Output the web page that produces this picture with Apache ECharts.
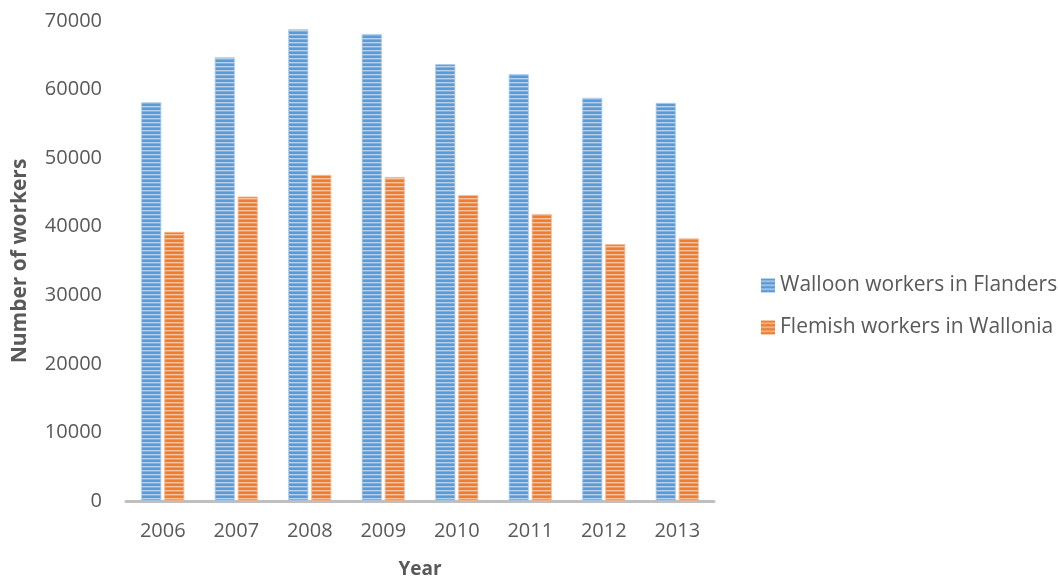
<!DOCTYPE html>
<html>
<head>
<meta charset="utf-8">
<title>Cross-border commuters</title>
<script src="https://cdn.jsdelivr.net/npm/echarts@6/dist/echarts.min.js"></script>
<style>
  html, body { margin: 0; padding: 0; background: #ffffff; }
  #chart { width: 1058px; height: 584px; }
</style>
</head>
<body>
<div id="chart"></div>
<script>
// Commuters between the two regions, by year
const years = ['2006', '2007', '2008', '2009', '2010', '2011', '2012', '2013'];
const walloonInFlanders = [58150, 64700, 68800, 68100, 63700, 62250, 58800, 58050];
const flemishInWallonia = [39250, 44400, 47550, 47250, 44600, 41850, 37450, 38300];
const yTicks = [0, 10000, 20000, 30000, 40000, 50000, 60000, 70000];

// Horizontal stripe fill used for the bars and legend swatches
function stripes(dark, mid, light) {
  const c = document.createElement('canvas');
  c.width = 4; c.height = 4;
  const g = c.getContext('2d');
  g.fillStyle = dark;  g.fillRect(0, 0, 4, 2);
  g.fillStyle = light; g.fillRect(0, 2, 4, 1);
  g.fillStyle = mid;   g.fillRect(0, 3, 4, 1);
  return { image: c, repeat: 'repeat' };
}
const bluePattern = stripes('#5b9bd5', '#7fb0e0', '#b7d2ef');
const orangePattern = stripes('#ed7d31', '#f19a5e', '#f7c3a0');

const font = '"Open Sans", "Noto Sans", sans-serif';
const textGrey = '#595959';

const chart = echarts.init(document.getElementById('chart'), null, { renderer: 'canvas' });
chart.setOption({
  animation: false,
  backgroundColor: '#ffffff',
  textStyle: { fontFamily: font },
  grid: { left: 126, right: 344, top: 21, bottom: 80, containLabel: false },
  legend: {
    orient: 'vertical',
    left: 756,
    top: 270,
    itemWidth: 14,
    itemHeight: 14,
    itemGap: 21,
    itemTextGap: 8,
    icon: 'rect',
    textStyle: { color: textGrey, fontSize: 21, fontFamily: font },
    itemStyle: { borderWidth: 0 },
    data: ['Walloon workers in Flanders', 'Flemish workers in Wallonia']
  },
  xAxis: {
    type: 'category',
    data: years,
    name: 'Year',
    nameLocation: 'middle',
    nameGap: 59,
    nameTextStyle: { color: textGrey, fontSize: 19, fontWeight: 'bold', fontFamily: font },
    axisLine: { lineStyle: { color: '#bfbfbf', width: 3 } },
    axisTick: { show: false },
    axisLabel: { color: textGrey, fontSize: 20, margin: 20, fontFamily: font }
  },
  yAxis: {
    type: 'value',
    min: 0,
    max: 70000,
    interval: 10000,
    name: 'Number of workers',
    nameLocation: 'middle',
    nameGap: 95,
    nameRotate: 90,
    nameTextStyle: { color: textGrey, fontSize: 21, fontWeight: 'bold', fontFamily: font },
    axisLine: { show: false },
    axisTick: { show: false },
    splitLine: { show: false },
    axisLabel: {
      color: textGrey, fontSize: 20, margin: 24, fontFamily: font,
      formatter: v => (yTicks.includes(v) ? String(v) : '')
    }
  },
  series: [
    {
      name: 'Walloon workers in Flanders',
      type: 'bar',
      data: walloonInFlanders,
      barWidth: 20,
      barGap: '15%',
      itemStyle: { color: bluePattern, borderColor: '#a9c8ea', borderWidth: 0.8 }
    },
    {
      name: 'Flemish workers in Wallonia',
      type: 'bar',
      data: flemishInWallonia,
      barWidth: 20,
      barGap: '15%',
      itemStyle: { color: orangePattern, borderColor: '#f5b890', borderWidth: 0.8 }
    }
  ]
});
</script>
</body>
</html>
